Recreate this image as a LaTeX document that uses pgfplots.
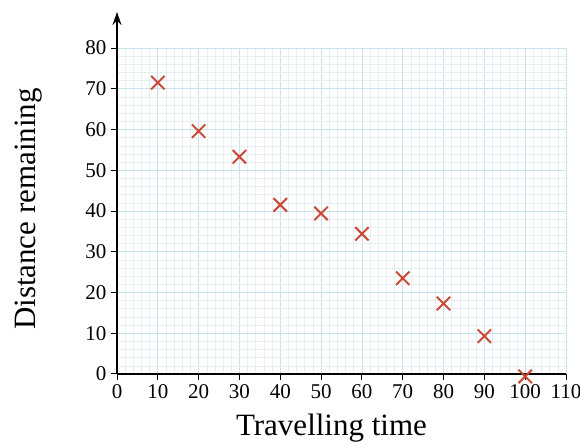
\documentclass[border=0pt]{standalone}
\usepackage{pgfplots}
\pgfplotsset{compat=1.18}
\usepackage{fontspec}
\setmainfont{Liberation Serif}
\usetikzlibrary{arrows.meta}
\definecolor{majgrid}{RGB}{200,226,236}
\definecolor{mingrid}{RGB}{228,238,243}
\definecolor{xred}{RGB}{202,74,56}
\begin{document}
\begin{tikzpicture}
\useasboundingbox (0,0) rectangle (580pt,443pt);
\begin{axis}[
  at={(117pt,69pt)}, anchor=south west,
  scale only axis, width=449pt, height=326pt,
  xmin=0, xmax=110, ymin=0, ymax=80,
  xtick={0,10,...,110}, ytick={0,10,...,80},
  minor tick num=4,
  grid=both,
  major grid style={majgrid, line width=0.8pt},
  minor grid style={mingrid, line width=0.6pt},
  axis x line=bottom, axis y line=left,
  axis line style={black, line width=1.4pt, -},
  y axis line style={-{Stealth[length=13pt,width=9pt]}, shorten >=-36pt},
  tick align=outside, major tick length=6pt, minor tick length=0pt,
  tick style={black, line width=1pt},
  /pgf/number format/assume math mode=true,
  ticklabel style={font=\fontsize{21}{21}\selectfont},
  xticklabel style={yshift=-1pt},
  yticklabel style={xshift=-1pt},
  xlabel={Travelling time},
  ylabel={Distance remaining},
  label style={font=\fontsize{31}{31}\selectfont},
  xlabel style={at={(axis description cs:0.4777,-0.190)}, anchor=base},
  ylabel style={at={(axis description cs:-0.1826,0.506)}, anchor=base},
  clip=false,
]
\addplot[only marks, mark=x, mark size=9.5pt, xred, mark options={line width=2pt}] coordinates {
(10,71.5) (20,59.6) (30,53.3) (40,41.5) (50,39.4) (60,34.4) (70,23.5) (80,17.3) (90,9.3) (100,-0.6)
};
\end{axis}
\end{tikzpicture}
\end{document}
